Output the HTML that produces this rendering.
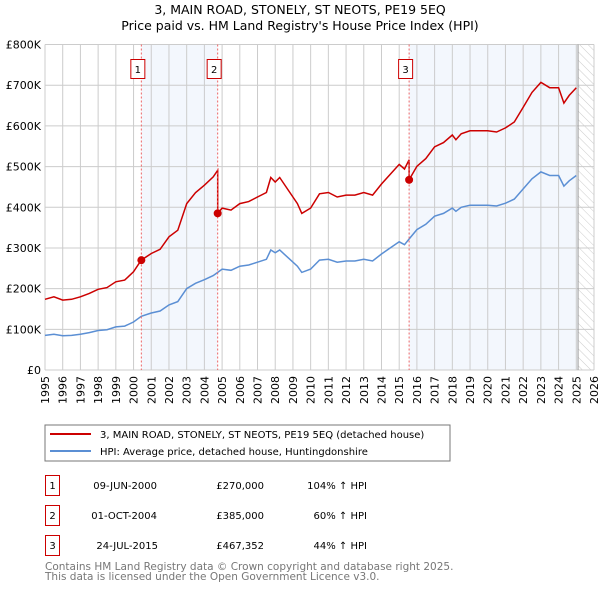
<!DOCTYPE html>
<html><head><meta charset="utf-8"><style>
body{margin:0;background:#fff;font-family:"DejaVu Sans","Liberation Sans",sans-serif;}
svg text{font-family:"DejaVu Sans","Liberation Sans",sans-serif;}
</style></head><body>
<svg id="c" width="600" height="590" xmlns="http://www.w3.org/2000/svg">
<defs><pattern id="hatch" width="6" height="6" patternUnits="userSpaceOnUse" patternTransform="rotate(-45)"><line x1="0" y1="0" x2="0" y2="6" stroke="#ccc" stroke-width="1"/></pattern></defs>
<text x="300" y="14" font-size="12.5" text-anchor="middle">3, MAIN ROAD, STONELY, ST NEOTS, PE19 5EQ</text>
<text x="300" y="30" font-size="12.5" text-anchor="middle">Price paid vs. HM Land Registry's House Price Index (HPI)</text>
<g id="plot"></g>
<rect x="45" y="425" width="405" height="36" fill="#fff" stroke="#777"/>
<line x1="50" y1="434" x2="91" y2="434" stroke="#cc0000" stroke-width="2"/>
<text x="100" y="438" font-size="10">3, MAIN ROAD, STONELY, ST NEOTS, PE19 5EQ (detached house)</text>
<line x1="50" y1="451" x2="91" y2="451" stroke="#5b8fd4" stroke-width="2"/>
<text x="100" y="455" font-size="10">HPI: Average price, detached house, Huntingdonshire</text>
<g font-size="10">
<rect x="45.5" y="475.5" width="14" height="20" fill="none" stroke="#cc0000"/><text x="52.5" y="489" text-anchor="middle">1</text>
<text x="157" y="489" text-anchor="end">09-JUN-2000</text><text x="264" y="489" text-anchor="end">£270,000</text><text x="367" y="489" text-anchor="end">104% ↑ HPI</text>
<rect x="45.5" y="505.5" width="14" height="20" fill="none" stroke="#cc0000"/><text x="52.5" y="519" text-anchor="middle">2</text>
<text x="157" y="519" text-anchor="end">01-OCT-2004</text><text x="264" y="519" text-anchor="end">£385,000</text><text x="367" y="519" text-anchor="end">60% ↑ HPI</text>
<rect x="45.5" y="535.5" width="14" height="20" fill="none" stroke="#cc0000"/><text x="52.5" y="549" text-anchor="middle">3</text>
<text x="158" y="549" text-anchor="end">24-JUL-2015</text><text x="264" y="549" text-anchor="end">£467,352</text><text x="367" y="549" text-anchor="end">44% ↑ HPI</text>
</g>
<text x="45" y="570" font-size="10.5" fill="#777">Contains HM Land Registry data © Crown copyright and database right 2025.</text>
<text x="45" y="580" font-size="10.5" fill="#777">This data is licensed under the Open Government Licence v3.0.</text>
</svg>
<script>
const hpiYears=[1995,1995.5,1996,1996.5,1997,1997.5,1998,1998.5,1999,1999.5,2000,2000.44,2001,2001.5,2002,2002.5,2003,2003.5,2004,2004.5,2004.75,2005,2005.5,2006,2006.5,2007,2007.5,2007.75,2008,2008.25,2008.75,2009.25,2009.5,2010,2010.5,2011,2011.5,2012,2012.5,2013,2013.5,2014,2014.5,2015,2015.3,2015.56,2016,2016.5,2017,2017.5,2018,2018.2,2018.5,2019,2019.5,2020,2020.5,2021,2021.5,2022,2022.5,2023,2023.5,2024,2024.3,2024.6,2025];
const hpiValues=[85,88,84,85,88,92,97,99,106,108,118,132,140,145,160,168,200,213,222,232,240,248,245,255,258,265,272,295,288,295,275,255,240,248,270,272,265,268,268,272,268,285,300,315,308,322,345,358,378,385,398,390,400,405,405,405,403,410,420,445,470,487,478,478,452,465,478];
const saleYears=[2000.44,2004.75,2015.56];
const salePrices=[270000,385000,467352];
const saleLabels=["1","2","3"];
const yTicks=[0,100,200,300,400,500,600,700,800];
const yTickLabels=["£0","£100K","£200K","£300K","£400K","£500K","£600K","£700K","£800K"];
const xTicks=[];for(let y=1995;y<=2026;y++)xTicks.push(y);
const X0=45,X1=594,Y0=370,Y1=44.5,yr0=1995,yr1=2026,dataEnd=2025.1;
const xs=v=>X0+(v-yr0)/(yr1-yr0)*(X1-X0);
const ys=v=>Y0-v/800*(Y0-Y1);
const NS="http://www.w3.org/2000/svg",g=document.getElementById('plot');
function mk(t,a,p){const e=document.createElementNS(NS,t);for(const k in a)e.setAttribute(k,a[k]);(p||g).appendChild(e);return e;}
const bg=mk('rect',{x:X0,y:Y1,width:X1-X0,height:Y0-Y1,fill:'#fff'});


let s1=mk('rect',{x:xs(saleYears[0]),y:Y1,width:xs(saleYears[1])-xs(saleYears[0]),height:Y0-Y1,fill:'#eef3fc',opacity:0.7});


let s3=mk('rect',{x:xs(saleYears[2]),y:Y1,width:xs(dataEnd)-xs(saleYears[2]),height:Y0-Y1,fill:'#eef3fc',opacity:0.7});


let h=mk('rect',{x:xs(dataEnd),y:Y1,width:X1-xs(dataEnd),height:Y0-Y1,fill:'url(#hatch)'});


xTicks.forEach(t=>{const l=mk('line',{x1:xs(t),x2:xs(t),y1:Y1,y2:Y0,stroke:'#ccc'});
const tx=mk('text',{x:0,y:0,'font-size':11,'text-anchor':'end',transform:`translate(${xs(t)+4},${Y0+6}) rotate(-90)`});tx.textContent=t;});
yTicks.forEach((t,i)=>{const l=mk('line',{x1:X0,x2:X1,y1:ys(t),y2:ys(t),stroke:'#ccc'});
const tx=mk('text',{x:X0-4,y:ys(t)+4,'font-size':11,'text-anchor':'end'});tx.textContent=yTickLabels[i];});
const ed=mk('line',{x1:xs(dataEnd),x2:xs(dataEnd),y1:Y1,y2:Y0,stroke:'#999'});


function hpiAt(y){for(let i=1;i<hpiYears.length;i++){if(y<=hpiYears[i]){const f=(y-hpiYears[i-1])/(hpiYears[i]-hpiYears[i-1]);return hpiValues[i-1]+f*(hpiValues[i]-hpiValues[i-1]);}}return hpiValues[hpiValues.length-1];}
const ratios=saleYears.map((y,i)=>salePrices[i]/1000/hpiAt(y));
let bp='';hpiYears.forEach((y,i)=>{bp+=(i?'L':'M')+xs(y).toFixed(1)+','+ys(hpiValues[i]).toFixed(1);});
const bl=mk('path',{d:bp,fill:'none',stroke:'#5b8fd4','stroke-width':1.5});


let rp='';hpiYears.forEach((y,i)=>{let k=0;for(let j=0;j<saleYears.length;j++)if(y>=saleYears[j])k=j;
if(i>0&&saleYears.includes(y)&&y!==saleYears[0]){const prevK=saleYears.indexOf(y)-1;rp+='L'+xs(y).toFixed(1)+','+ys(hpiValues[i]*ratios[prevK]).toFixed(1);}
rp+=(i?'L':'M')+xs(y).toFixed(1)+','+ys(hpiValues[i]*ratios[k]).toFixed(1);});
const rl=mk('path',{d:rp,fill:'none',stroke:'#cc0000','stroke-width':1.5});


saleYears.forEach((y,i)=>{
const vl=mk('line',{x1:xs(y),x2:xs(y),y1:Y1,y2:Y0,stroke:'#e66','stroke-dasharray':'2,2'});


const c=mk('circle',{cx:xs(y),cy:ys(salePrices[i]/1000),r:4,fill:'#cc0000'});


const cx=xs(y)-3.5;
const bx=mk('rect',{x:cx-7,y:59.5,width:14,height:19,fill:'#fff',stroke:'#cc0000'});


const t=mk('text',{x:cx,y:73,'font-size':10,'text-anchor':'middle'});t.textContent=saleLabels[i];


});
</script>
</body></html>
